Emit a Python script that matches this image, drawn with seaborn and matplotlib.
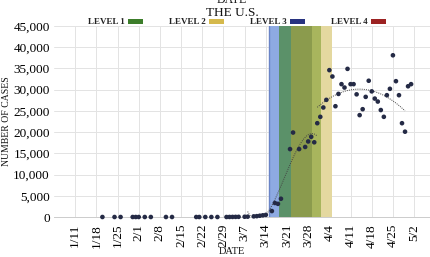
import matplotlib

matplotlib.use("Agg")
import matplotlib.dates as mdates
import matplotlib.pyplot as plt
import numpy as np
import pandas as pd
import seaborn as sns
from matplotlib.patches import Patch

# %% Data
case_dates = [
    "2020-01-20", "2020-01-24", "2020-01-26", "2020-01-30", "2020-01-31",
    "2020-02-01", "2020-02-03", "2020-02-05", "2020-02-10", "2020-02-12",
    "2020-02-20", "2020-02-21", "2020-02-23", "2020-02-25", "2020-02-27",
    "2020-03-01", "2020-03-02", "2020-03-03", "2020-03-04", "2020-03-05",
    "2020-03-07", "2020-03-08", "2020-03-10", "2020-03-11", "2020-03-12",
    "2020-03-13", "2020-03-14", "2020-03-16", "2020-03-17", "2020-03-18",
    "2020-03-19", "2020-03-22", "2020-03-23", "2020-03-25", "2020-03-27",
    "2020-03-28", "2020-03-29", "2020-03-30", "2020-03-31", "2020-04-01",
    "2020-04-02", "2020-04-03", "2020-04-04", "2020-04-05", "2020-04-06",
    "2020-04-07", "2020-04-08", "2020-04-09", "2020-04-10", "2020-04-11",
    "2020-04-12", "2020-04-13", "2020-04-14", "2020-04-15", "2020-04-16",
    "2020-04-17", "2020-04-18", "2020-04-19", "2020-04-20", "2020-04-21",
    "2020-04-22", "2020-04-23", "2020-04-24", "2020-04-25", "2020-04-26",
    "2020-04-27", "2020-04-28", "2020-04-29", "2020-04-30", "2020-05-01",
]
case_values = [
    0, 0, 0, 0, 0,
    0, 0, 0, 0, 0,
    0, 0, 0, 0, 0,
    0, 10, 20, 30, 40,
    60, 80, 150, 200, 300,
    400, 500, 1400, 3300, 3100,
    4300, 16000, 19900, 16000, 16500,
    17800, 18900, 17600, 22100, 23600,
    25800, 27600, 34600, 33100, 26100,
    29000, 31300, 30500, 34900, 31300,
    31300, 28900, 24000, 25400, 28300,
    32100, 29600, 27900, 27200, 25200,
    23600, 28700, 30200, 38100, 32000,
    28700, 22100, 20100, 30800, 31300,
]

tick_dates = [
    "2020-01-11", "2020-01-18", "2020-01-25", "2020-02-01", "2020-02-08",
    "2020-02-15", "2020-02-22", "2020-02-29", "2020-03-07", "2020-03-14",
    "2020-03-21", "2020-03-28", "2020-04-04", "2020-04-11", "2020-04-18",
    "2020-04-25", "2020-05-02",
]
tick_labels = [
    "1/11", "1/18", "1/25", "2/1", "2/8", "2/15", "2/22", "2/29", "3/7",
    "3/14", "3/21", "3/28", "4/4", "4/11", "4/18", "4/25", "5/2",
]

# shaded periods (overlapping state orders)
band_starts = ["2020-03-15", "2020-03-18 08:00", "2020-03-22 05:00", "2020-03-29 03:00", "2020-04-01 02:00"]
band_ends = ["2020-03-18 08:00", "2020-03-22 05:00", "2020-03-29 03:00", "2020-04-01 02:00", "2020-04-05"]
band_colors = ["#8eaae2", "#5b9169", "#8b9b4d", "#a8b55d", "#e4d89f"]

# trend segments (fitted to the points)
trend1_range = ["2020-03-08", "2020-03-31"]
trend2_range = ["2020-03-31", "2020-04-29"]

level_names = ["LEVEL 1", "LEVEL 2", "LEVEL 3", "LEVEL 4"]
level_colors = ["#3c7d2a", "#d5b94c", "#283380", "#9c2222"]

# %% Build frame
df = pd.DataFrame({"date": pd.to_datetime(case_dates), "cases": case_values})

sns.set_theme(style="whitegrid")
plt.rcParams["font.family"] = ["Liberation Serif", "DejaVu Serif"]

fig = plt.figure(figsize=(4.31, 2.57), dpi=100)
ax = fig.add_axes([54 / 431, 1 - 217 / 257, 377 / 431, 191 / 257])

for start, end, color in zip(band_starts, band_ends, band_colors):
    ax.axvspan(pd.Timestamp(start), pd.Timestamp(end), color=color, lw=0, zorder=1)
ax.axvline(pd.Timestamp(band_starts[0]), color="#6a84c6", lw=1.0, zorder=1)


def draw_trend(date_range, degree):
    lo, hi = pd.Timestamp(date_range[0]), pd.Timestamp(date_range[1])
    part = df[(df["date"] >= lo) & (df["date"] <= hi)]
    x = mdates.date2num(part["date"])
    coef = np.polyfit(x, part["cases"], degree)
    xs = np.linspace(x.min(), x.max(), 100)
    ax.plot(mdates.num2date(xs), np.polyval(coef, xs), color="#444444",
            lw=0.7, ls=(0, (1, 1.2)), zorder=2)


draw_trend(trend1_range, 3)
draw_trend(trend2_range, 2)

sns.scatterplot(data=df, x="date", y="cases", ax=ax, color="#242a45", s=11,
                edgecolor="none", zorder=3, clip_on=False)

ax.set_xlim(pd.Timestamp("2020-01-04"), pd.Timestamp("2020-05-07 14:00"))
ax.set_ylim(0, 45000)
ax.set_yticks(np.arange(0, 45001, 5000))
ax.yaxis.set_major_formatter(matplotlib.ticker.FuncFormatter(lambda v, p: f"{int(v):,}"))
ax.set_xticks(pd.to_datetime(tick_dates))
ax.set_xticklabels(tick_labels, rotation=90)
ax.tick_params(axis="both", length=0, pad=3, labelsize=9.5, colors="#000000")
ax.tick_params(axis="x", pad=5)
ax.grid(True, color="#e3e3e3", lw=0.7)
for side in ["top", "right", "left"]:
    ax.spines[side].set_visible(False)
ax.spines["bottom"].set_color("#cccccc")
ax.spines["bottom"].set_linewidth(0.7)

ax.set_xlabel("")
ax.set_ylabel("NUMBER OF CASES", fontsize=7, color="#111111", labelpad=2)
ax.yaxis.set_label_coords(-0.115, 0.5)

fig.text(232 / 431, 1 - 252 / 257, "DATE", ha="center", va="center", fontsize=7.5, color="#111111")
fig.text(232 / 431, 1 - 12.5 / 257, "THE U.S.", ha="center", va="center", fontsize=9.5, color="#111111")
# bottom of the previous chart's axis title, cut by the top edge as in the source
fig.text(232 / 431, 1.0, "DATE", ha="center", va="center", fontsize=8.5, color="#111111")

handles = [Patch(facecolor=c, edgecolor="none") for c in level_colors]
leg = fig.legend(handles, level_names, loc="center left", bbox_to_anchor=(88 / 431, 1 - 22.5 / 257),
                 ncol=4, frameon=False, markerfirst=False, fontsize=6.5,
                 handlelength=1.6, handleheight=0.55, handletextpad=0.4,
                 columnspacing=2.9, borderpad=0, borderaxespad=0)
for t in leg.get_texts():
    t.set_fontweight("bold")
    t.set_color("#222222")

fig.savefig("out.png", dpi=100)
